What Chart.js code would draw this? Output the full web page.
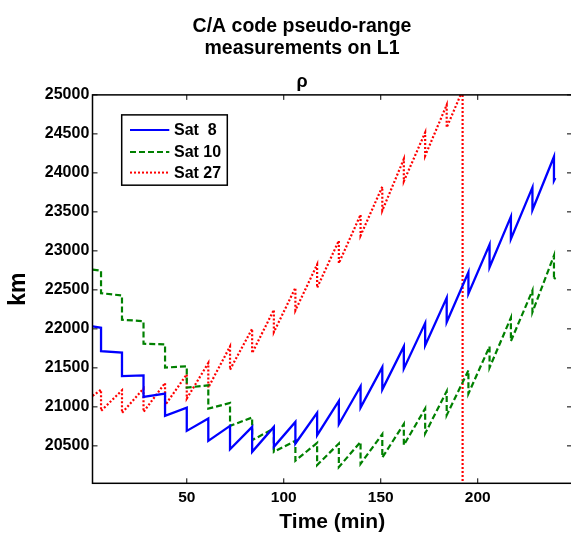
<!DOCTYPE html>
<html><head><meta charset="utf-8">
<script src="https://cdn.jsdelivr.net/npm/chart.js@4"></script>
<style>html,body{margin:0;padding:0;overflow:hidden;background:#fff}</style>
</head><body>
<canvas id="c" width="572" height="535" style="display:block;width:572px;height:535px"></canvas>
<script>
// ---- data ----
const titleLines = ["C/A code pseudo-range", "measurements on L1"];
const subtitleText = "ρ";
const xLabel = "Time (min)";
const yLabel = "km";
const seriesNames = ["Sat  8", "Sat 10", "Sat 27"];
const xTicks = [50, 100, 150, 200];
const yTicks = [20500, 21000, 21500, 22000, 22500, 23000, 23500, 24000, 24500, 25000];
const xRange = [1.4, 248.6];
const yRange = [20020, 25000];

const startTime = 1.5;
const endTime = 240;
const dropTimes = [5.8, 16.6, 27.7, 38.8, 50.0, 61.1, 72.3, 83.7, 94.9, 106.0, 117.2, 128.4, 139.6, 150.8, 161.9, 172.9, 184.0, 195.2, 206.1, 217.1, 228.2, 239.3];

const sat8Start = 22031;
const sat8Before = [22014, 21695, 21404, 21170, 20991, 20850, 20756, 20743, 20743, 20807, 20922, 21076, 21264, 21510, 21775, 22074, 22399, 22726, 23081, 23439, 23814, 24207];
const sat8After  = [21715, 21395, 21127, 20884, 20692, 20564, 20457, 20423, 20487, 20530, 20637, 20777, 20991, 21221, 21490, 21788, 22086, 22450, 22790, 23153, 23524, 23900];
const sat8End = 23934;

const sat10Start = 22760;
const sat10Before = [22745, 22428, 22099, 21801, 21520, 21276, 21050, 20863, 20722, 20565, 20538, 20530, 20551, 20650, 20780, 20978, 21200, 21468, 21775, 22143, 22492, 22940];
const sat10After  = [22458, 22117, 21810, 21503, 21247, 20978, 20756, 20573, 20423, 20310, 20253, 20228, 20270, 20350, 20509, 20658, 20893, 21170, 21503, 21843, 22214, 22629];
const sat10End = 22660;

const sat27Start = 21140;
const sat27Before = [21221, 21212, 21234, 21306, 21417, 21562, 21775, 22002, 22245, 22527, 22825, 23132, 23464, 23823, 24177, 24518, 24872];
const sat27After  = [20948, 20922, 20935, 21020, 21106, 21247, 21477, 21690, 21958, 22236, 22527, 22841, 23196, 23516, 23891, 24219, 24582];
const sat27LossTime = 192.2;
const sat27LossPeak = 25060;
const sat27LossValue = 0;

// ---- build point lists ----
function buildSeries(start, before, after) {
  const pts = [{x: startTime, y: start}];
  before.forEach((b, i) => {
    pts.push({x: dropTimes[i], y: b});
    pts.push({x: dropTimes[i], y: after[i]});
  });
  return pts;
}
const sat8Pts = buildSeries(sat8Start, sat8Before, sat8After);
sat8Pts.push({x: endTime, y: sat8End});
const sat10Pts = buildSeries(sat10Start, sat10Before, sat10After);
sat10Pts.push({x: endTime, y: sat10End});
const sat27Pts = buildSeries(sat27Start, sat27Before, sat27After);
sat27Pts.push({x: sat27LossTime, y: sat27LossPeak});
sat27Pts.push({x: sat27LossTime, y: sat27LossValue});

Chart.defaults.font.family = "'Liberation Sans', Arial, Helvetica, sans-serif";
Chart.defaults.font.weight = 'bold';
Chart.defaults.color = '#000';

const boxPlugin = {
  id: 'boxPlugin',
  afterDraw(chart) {
    const {ctx, chartArea: a, scales} = chart;
    ctx.save();
    ctx.strokeStyle = '#000';
    ctx.lineWidth = 1.5;
    ctx.strokeRect(a.left, a.top, a.right - a.left, a.bottom - a.top);
    const tl = 5;
    ctx.lineWidth = 1;
    ctx.beginPath();
    scales.x.ticks.forEach(t => {
      const px = scales.x.getPixelForValue(t.value);
      ctx.moveTo(px, a.bottom); ctx.lineTo(px, a.bottom - tl);
      ctx.moveTo(px, a.top); ctx.lineTo(px, a.top + tl);
    });
    scales.y.ticks.forEach(t => {
      const py = scales.y.getPixelForValue(t.value);
      ctx.moveTo(a.left, py); ctx.lineTo(a.left + tl, py);
      ctx.moveTo(a.right, py); ctx.lineTo(a.right - tl, py);
    });
    ctx.stroke();
    ctx.restore();
  }
};

const legendPlugin = {
  id: 'legendPlugin',
  afterDraw(chart) {
    const {ctx, chartArea: a} = chart;
    const bx = a.left + 29.2, by = a.top + 20, bw = 105.6, bh = 70.3;
    ctx.save();
    ctx.fillStyle = '#fff';
    ctx.fillRect(bx, by, bw, bh);
    ctx.strokeStyle = '#000';
    ctx.lineWidth = 1.5;
    ctx.strokeRect(bx, by, bw, bh);
    const rows = [15, 37, 57.7];
    chart.data.datasets.forEach((ds, i) => {
      const y = by + rows[i];
      ctx.beginPath();
      ctx.strokeStyle = ds.borderColor;
      ctx.lineWidth = 2;
      ctx.setLineDash(ds.borderDash || []);
      ctx.moveTo(bx + 8.3, y);
      ctx.lineTo(bx + 47.6, y);
      ctx.stroke();
      ctx.setLineDash([]);
      ctx.fillStyle = '#000';
      ctx.font = "bold 16px 'Liberation Sans', Arial, sans-serif";
      ctx.textBaseline = 'middle';
      ctx.textAlign = 'left';
      ctx.fillText(ds.label, bx + 52.3, y + 1);
    });
    ctx.restore();
  }
};

new Chart(document.getElementById('c').getContext('2d'), {
  type: 'line',
  data: {
    datasets: [
      {label: seriesNames[0], data: sat8Pts, borderColor: '#0000ff', borderWidth: 2.3, pointRadius: 0, fill: false, tension: 0},
      {label: seriesNames[1], data: sat10Pts, borderColor: '#008000', borderWidth: 2.2, borderDash: [6, 3], pointRadius: 0, fill: false, tension: 0},
      {label: seriesNames[2], data: sat27Pts, borderColor: '#ff0000', borderWidth: 2.2, borderDash: [2, 2], pointRadius: 0, fill: false, tension: 0}
    ]
  },
  options: {
    responsive: false,
    animation: false,
    devicePixelRatio: 1,
    layout: {padding: {left: 32, right: 0, top: 0, bottom: 0}},
    plugins: {
      legend: {display: false},
      tooltip: {enabled: false},
      title: {display: true, text: titleLines, color: '#000', font: {size: 19.5, weight: 'bold', lineHeight: 1.12}, padding: {top: 16, bottom: 0}},
      subtitle: {display: true, text: subtitleText, color: '#000', font: {size: 18, weight: 'bold', lineHeight: 1.2}, padding: {top: 11.3, bottom: 2.3}}
    },
    scales: {
      x: {
        type: 'linear', min: xRange[0], max: xRange[1],
        afterBuildTicks: s => { s.ticks = xTicks.map(v => ({value: v})); },
        afterFit: s => { s.height = 51.7; },
        grid: {display: false, drawTicks: false},
        border: {display: false},
        ticks: {font: {size: 15.5, weight: 'bold'}, color: '#000', padding: 5.3, maxRotation: 0, autoSkip: false, callback: v => String(v)},
        title: {display: true, text: xLabel, color: '#000', font: {size: 21, weight: 'bold'}, padding: {top: 0, bottom: 0}}
      },
      y: {
        type: 'linear', min: yRange[0], max: yRange[1],
        afterBuildTicks: s => { s.ticks = yTicks.map(v => ({value: v})); },
        afterFit: s => { s.width = 60.5; },
        grid: {display: false, drawTicks: false},
        border: {display: false},
        ticks: {font: {size: 16, weight: 'bold'}, color: '#000', padding: 3.2, autoSkip: false, callback: v => String(v)},
        title: {display: true, text: yLabel, color: '#000', font: {size: 23, weight: 'bold'}, padding: {top: -26.8, bottom: 0}}
      }
    }
  },
  plugins: [boxPlugin, legendPlugin]
});
</script>
</body></html>
